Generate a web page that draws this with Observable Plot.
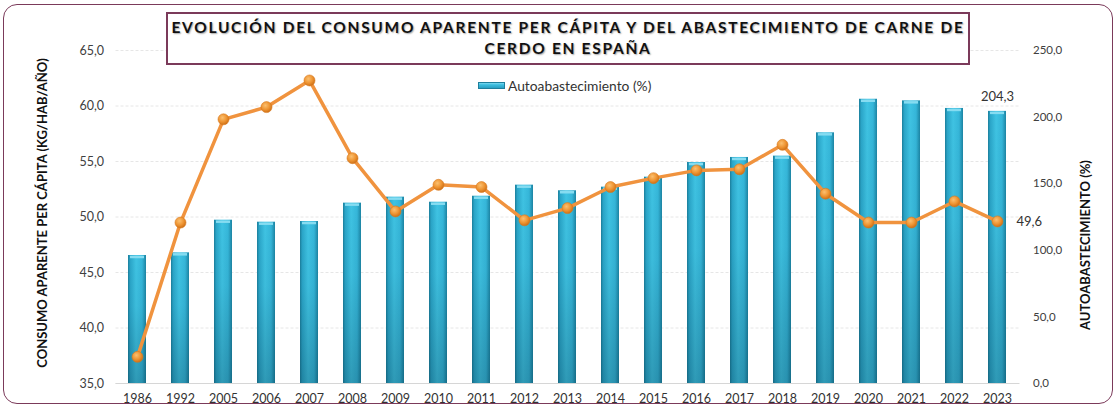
<!DOCTYPE html>
<html>
<head>
<meta charset="utf-8">
<script src="https://cdn.jsdelivr.net/npm/d3@7"></script>
<script src="https://cdn.jsdelivr.net/npm/@observablehq/plot@0.6"></script>
<style>
  html, body { margin: 0; padding: 0; background: #fff; }
  #wrap { position: relative; width: 1116px; height: 407px; overflow: hidden; font-family: Lato, "Open Sans", sans-serif; }
  #border { position: absolute; left: 3px; top: 4px; width: 1108px; height: 398px; border: 1.5px solid #7b3a5a; border-radius: 14px; pointer-events: none; }
  #title { position: absolute; left: 166px; top: 12px; width: 800px; height: 46px; border: 2px solid #7b3a5a; background: #fff;
    font-family: Lato, sans-serif; font-weight: 700; font-size: 15.5px; letter-spacing: 1.5px; line-height: 21px; text-align: center;
    color: #111; text-shadow: 1px 1px 1.5px rgba(0,0,0,0.35); padding-top: 3px; box-sizing: content-box; white-space: nowrap; }
  #title span { display: inline-block; }
  #legend { position: absolute; left: 478px; top: 77px; font-size: 13.8px; color: #333; display: flex; align-items: center; }
  #legend .sw { width: 27px; height: 7px; margin-right: 3px; background: linear-gradient(to bottom, #7fd9ef 0%, #3cbfe0 35%, #2a9fc2 100%); border: 1px solid #1e7f9c; box-sizing: border-box; }
</style>
</head>
<body>
<div id="wrap">
  <div id="chart"></div>
  <div id="border"></div>
  <div id="title"><span id="t1">EVOLUCIÓN DEL CONSUMO APARENTE PER CÁPITA Y DEL ABASTECIMIENTO DE CARNE DE</span><br><span id="t2">CERDO EN ESPAÑA</span></div>
  <div id="legend"><span class="sw"></span>Autoabastecimiento (%)</div>
</div>
<script>
const years = ["1986","1992","2005","2006","2007","2008","2009","2010","2011","2012","2013","2014","2015","2016","2017","2018","2019","2020","2021","2022","2023"];
const consumo = [37.4,49.5,58.8,59.9,62.3,55.3,50.5,52.9,52.7,49.7,50.8,52.7,53.5,54.2,54.3,56.5,52.1,49.5,49.5,51.4,49.6];
const autoabastecimiento = [96.1,98.1,122.6,121.1,121.6,135.4,139.9,136.1,140.6,148.9,144.7,147.4,154.9,165.9,169.7,170.7,188.2,213.4,212.2,206.5,204.3];
const leftTicks = [35,40,45,50,55,60,65];
const rightTicks = [0,50,100,150,200,250];
const leftLabel = "CONSUMO APARENTE PER CÁPITA (KG/HAB/AÑO)";
const rightLabel = "AUTOABASTECIMIENTO (%)";

// map right-axis values (0–250) onto the left-axis domain (35–65)
const L0 = 35, L1 = 65, R0 = 0, R1 = 250;
const toLeft = v => L0 + (v - R0) * (L1 - L0) / (R1 - R0);
const fromLeft = y => R0 + (y - L0) * (R1 - R0) / (L1 - L0);
const fmt = v => v.toFixed(1).replace(".", ",");

const data = years.map((y, i) => ({year: y, consumo: consumo[i], auto: autoabastecimiento[i], autoL: toLeft(autoabastecimiento[i])}));
const last = data[data.length - 1];

const chart = Plot.plot({
  width: 1116,
  height: 407,
  marginLeft: 115.5,
  marginRight: 96.5,
  marginTop: 50,
  marginBottom: 24,
  style: {fontFamily: "Lato, sans-serif", fontSize: "12.5px", color: "#404040", background: "transparent"},
  x: {domain: years, paddingInner: 0.58, paddingOuter: 0.29, label: null},
  y: {domain: [L0, L1], label: null},
  marks: [
    Plot.gridY(leftTicks, {stroke: "#e6e6e6", strokeOpacity: 1, strokeDasharray: "3,2"}),
    Plot.ruleY([L0], {stroke: "#d6d6d6"}),
    Plot.barY(data, {x: "year", y1: L0, y2: "autoL", fill: "url(#barGradH)"}),
    Plot.barY(data, {x: "year", y1: L0, y2: "autoL", fill: "url(#barGradV)"}),
    Plot.tickY(data, {x: "year", y: "autoL", stroke: "#86dcf1", strokeWidth: 2.5, insetLeft: 2, insetRight: 2, dy: 1.5}),
    Plot.line(data, {x: "year", y: "consumo", stroke: "#f0933e", strokeWidth: 3.5, curve: "linear"}),
    Plot.dot(data, {x: "year", y: "consumo", r: 5.5, fill: "url(#dotGrad)", stroke: "#d9781c", strokeWidth: 0.6}),
    Plot.text([last], {x: "year", y: "autoL", text: d => fmt(d.auto), dy: -15, fill: "#333", fontSize: 13}),
    Plot.text([last], {x: "year", y: "consumo", text: d => fmt(d.consumo), dx: 19, textAnchor: "start", fill: "#333", fontSize: 13}),
    Plot.axisY(leftTicks, {anchor: "left", tickSize: 0, tickPadding: 12, tickFormat: fmt, label: null, fill: "#404040"}),
    Plot.axisY(rightTicks.map(toLeft), {anchor: "right", tickSize: 0, tickPadding: 13, tickFormat: d => fmt(fromLeft(d)), label: null, fill: "#404040", fontSize: 11.5}),
    Plot.axisX({tickSize: 0, tickPadding: 11, label: null, fill: "#333"}),
    Plot.text([leftLabel], {frameAnchor: "left", dx: -73, dy: -4, rotate: -90, textAnchor: "middle", fontWeight: "bold", fontSize: 13, fill: "#111"}),
    Plot.text([rightLabel], {frameAnchor: "right", dx: 66, dy: 28, rotate: -90, textAnchor: "middle", fontWeight: "bold", fontSize: 13, fill: "#111"})
  ]
});

const ns = "http://www.w3.org/2000/svg";
const defs = document.createElementNS(ns, "defs");
defs.innerHTML = `
  <linearGradient id="barGradH" x1="0" y1="0" x2="1" y2="0">
    <stop offset="0" stop-color="#1b7e9b"/>
    <stop offset="0.12" stop-color="#2aa5c8"/>
    <stop offset="0.45" stop-color="#3fc3e3"/>
    <stop offset="0.78" stop-color="#35b6d9"/>
    <stop offset="1" stop-color="#1c84a3"/>
  </linearGradient>
  <linearGradient id="barGradV" x1="0" y1="0" x2="0" y2="1">
    <stop offset="0" stop-color="#000" stop-opacity="0"/>
    <stop offset="0.4" stop-color="#002030" stop-opacity="0.04"/>
    <stop offset="1" stop-color="#002030" stop-opacity="0.25"/>
  </linearGradient>
  <radialGradient id="dotGrad" cx="0.4" cy="0.35" r="0.7">
    <stop offset="0" stop-color="#fbc070"/>
    <stop offset="0.55" stop-color="#ee9432"/>
    <stop offset="1" stop-color="#c96a12"/>
  </radialGradient>`;
chart.insertBefore(defs, chart.firstChild);
document.getElementById("chart").appendChild(chart);

// fit the title's first line to the width it has in the reference (~793px)
const t1 = document.getElementById("t1"), t2 = document.getElementById("t2");
const n = t1.textContent.length;
const w = t1.getBoundingClientRect().width;
const ls = 1.5 + (793 - w) / n;
t1.style.letterSpacing = ls + "px";
t2.style.letterSpacing = ls + "px";
</script>
</body>
</html>
